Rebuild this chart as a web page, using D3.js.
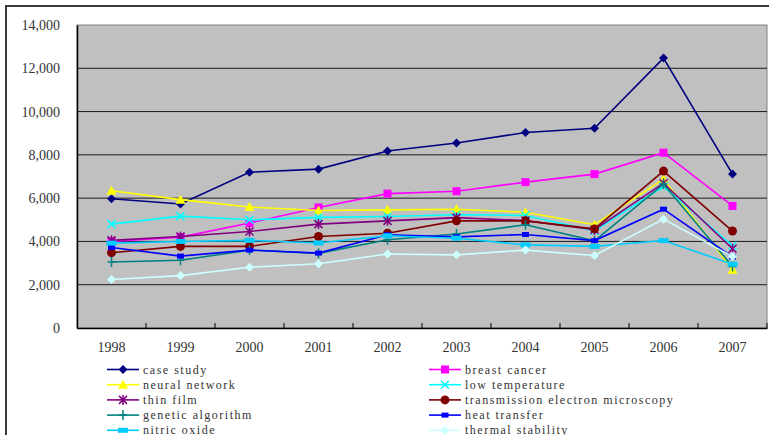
<!DOCTYPE html>
<html>
<head>
<meta charset="utf-8">
<script src="https://cdn.jsdelivr.net/npm/d3@7"></script>
<style>
  html, body { margin: 0; padding: 0; background: #fff; }
  svg { display: block; }
</style>
</head>
<body>
<svg id="chart" width="769" height="435"></svg>
<script>
// Publication counts per keyword, 1998-2007
const years = ["1998", "1999", "2000", "2001", "2002", "2003", "2004", "2005", "2006", "2007"];
const yTicks = [0, 2000, 4000, 6000, 8000, 10000, 12000, 14000];

const caseStudy        = [5970, 5730, 7200, 7340, 8180, 8550, 9030, 9230, 12470, 7110];
const breastCancer     = [4000, 4200, 4850, 5570, 6210, 6320, 6740, 7110, 8100, 5640];
const neuralNetwork    = [6340, 5930, 5590, 5430, 5460, 5490, 5350, 4770, 6880, 2690];
const lowTemperature   = [4800, 5170, 5000, 5110, 5150, 5230, 5200, 4490, 6540, 3800];
const thinFilm         = [4050, 4230, 4460, 4800, 4950, 5100, 4960, 4540, 6690, 3660];
const temMicroscopy    = [3480, 3770, 3770, 4230, 4380, 4950, 4950, 4580, 7250, 4480];
const geneticAlgorithm = [3050, 3130, 3600, 3450, 4080, 4340, 4770, 4030, 6650, 2840];
const heatTransfer     = [3720, 3320, 3600, 3460, 4310, 4210, 4320, 4040, 5490, 3280];
const nitricOxide      = [3920, 4000, 4050, 3930, 4260, 4150, 3840, 3770, 4040, 2950];
const thermalStability = [2240, 2420, 2810, 2970, 3420, 3380, 3600, 3350, 5030, 3300];

const series = [
  { name: "case study", values: caseStudy, color: "#000080", marker: "diamond" },
  { name: "breast cancer", values: breastCancer, color: "#FF00FF", marker: "square" },
  { name: "neural network", values: neuralNetwork, color: "#FFFF00", marker: "triangle" },
  { name: "low temperature", values: lowTemperature, color: "#00FFFF", marker: "x" },
  { name: "thin film", values: thinFilm, color: "#800080", marker: "star" },
  { name: "transmission electron microscopy", values: temMicroscopy, color: "#800000", marker: "circle" },
  { name: "genetic algorithm", values: geneticAlgorithm, color: "#008080", marker: "plus" },
  { name: "heat transfer", values: heatTransfer, color: "#0000FF", marker: "dash" },
  { name: "nitric oxide", values: nitricOxide, color: "#00CCFF", marker: "longdash" },
  { name: "thermal stability", values: thermalStability, color: "#CCFFFF", marker: "diamond" }
];

const svg = d3.select("#chart");
const plot = { left: 77, top: 25, right: 767, bottom: 328 };

// Outer chart frame
svg.append("rect")
  .attr("x", 6).attr("y", 6)
  .attr("width", 800).attr("height", 500)
  .attr("fill", "#fff")
  .attr("stroke", "#3a3a3a").attr("stroke-width", 2);

const x = d3.scaleBand().domain(years).range([plot.left, plot.right]).padding(0);
const y = d3.scaleLinear().domain([0, 14000]).range([plot.bottom, plot.top]);
const cx = d => x(d) + x.bandwidth() / 2;

// Plot area
svg.append("rect")
  .attr("x", plot.left).attr("y", plot.top)
  .attr("width", plot.right - plot.left).attr("height", plot.bottom - plot.top)
  .attr("fill", "#C0C0C0")
  .attr("stroke", "#808080").attr("stroke-width", 1);

// Gridlines
svg.append("g").selectAll("line")
  .data(yTicks.filter(t => t > 0 && t < 14000))
  .join("line")
  .attr("x1", plot.left).attr("x2", plot.right)
  .attr("y1", d => y(d)).attr("y2", d => y(d))
  .attr("stroke", "#1a1a1a").attr("stroke-width", 1);

// Y axis
const yAxis = svg.append("g")
  .attr("transform", `translate(${plot.left},0)`)
  .call(d3.axisLeft(y).tickValues(yTicks).tickSize(0).tickPadding(17)
    .tickFormat(d3.format(",")));
yAxis.select(".domain").attr("stroke", "#000").attr("stroke-width", 1.5);
yAxis.selectAll("text")
  .attr("font-family", "'Liberation Serif', serif")
  .attr("font-size", 14).attr("fill", "#333");

// X axis with inward ticks between categories
const xAxis = svg.append("g")
  .attr("transform", `translate(0,${plot.bottom})`)
  .call(d3.axisBottom(x).tickSize(0).tickPadding(14));
xAxis.select(".domain").attr("stroke", "#000").attr("stroke-width", 1.5);
xAxis.selectAll("text")
  .attr("font-family", "'Liberation Serif', serif")
  .attr("font-size", 14).attr("fill", "#333");
xAxis.selectAll("line.sep")
  .data(years.slice(1).concat(["end"]))
  .join("line")
  .attr("class", "sep")
  .attr("x1", (d, i) => plot.left + (i + 1) * x.bandwidth())
  .attr("x2", (d, i) => plot.left + (i + 1) * x.bandwidth())
  .attr("y1", 0).attr("y2", -5)
  .attr("stroke", "#000").attr("stroke-width", 1);

function drawMarker(g, type, color, px, py) {
  switch (type) {
    case "diamond":
      g.append("path")
        .attr("d", `M${px},${py - 4.5}L${px + 4.5},${py}L${px},${py + 4.5}L${px - 4.5},${py}Z`)
        .attr("fill", color);
      break;
    case "square":
      g.append("rect").attr("x", px - 4).attr("y", py - 4)
        .attr("width", 8).attr("height", 8).attr("fill", color);
      break;
    case "triangle":
      g.append("path")
        .attr("d", `M${px},${py - 5}L${px + 5},${py + 4}L${px - 5},${py + 4}Z`)
        .attr("fill", color);
      break;
    case "circle":
      g.append("circle").attr("cx", px).attr("cy", py).attr("r", 4.5).attr("fill", color);
      break;
    case "x":
      g.append("path")
        .attr("d", `M${px - 4},${py - 4}L${px + 4},${py + 4}M${px - 4},${py + 4}L${px + 4},${py - 4}`)
        .attr("stroke", color).attr("stroke-width", 1.5);
      break;
    case "star":
      g.append("path")
        .attr("d", `M${px - 4},${py - 4}L${px + 4},${py + 4}M${px - 4},${py + 4}L${px + 4},${py - 4}M${px},${py - 5}L${px},${py + 5}`)
        .attr("stroke", color).attr("stroke-width", 1.5);
      break;
    case "plus":
      g.append("path")
        .attr("d", `M${px - 4},${py}L${px + 4},${py}M${px},${py - 5}L${px},${py + 5}`)
        .attr("stroke", color).attr("stroke-width", 1.5);
      break;
    case "dash":
      g.append("rect").attr("x", px - 3.5).attr("y", py - 2.5)
        .attr("width", 7).attr("height", 5).attr("fill", color);
      break;
    case "longdash":
      g.append("rect").attr("x", px - 5).attr("y", py - 2.5)
        .attr("width", 10).attr("height", 5).attr("fill", color);
      break;
  }
}

const line = d3.line().x((d, i) => cx(years[i])).y(d => y(d));

// Series lines and markers
series.forEach(s => {
  const g = svg.append("g");
  g.append("path")
    .datum(s.values)
    .attr("d", line)
    .attr("fill", "none")
    .attr("stroke", s.color)
    .attr("stroke-width", 1.6);
  s.values.forEach((v, i) => drawMarker(g, s.marker, s.color, cx(years[i]), y(v)));
});

// Legend in two columns
const legend = svg.append("g");
series.forEach((s, i) => {
  const col = i % 2;
  const row = Math.floor(i / 2);
  const lx = col === 0 ? 107 : 429;
  const ly = 369.5 + row * 15.2;
  const g = legend.append("g");
  g.append("line")
    .attr("x1", lx).attr("x2", lx + 32)
    .attr("y1", ly).attr("y2", ly)
    .attr("stroke", s.color).attr("stroke-width", 1.6);
  drawMarker(g, s.marker, s.color, lx + 16, ly);
  g.append("text")
    .attr("x", lx + 36).attr("y", ly + 4)
    .attr("font-family", "'Liberation Serif', serif")
    .attr("font-size", 12)
    .attr("letter-spacing", 1.5)
    .attr("fill", "#333")
    .text(s.name);
});
</script>
</body>
</html>
